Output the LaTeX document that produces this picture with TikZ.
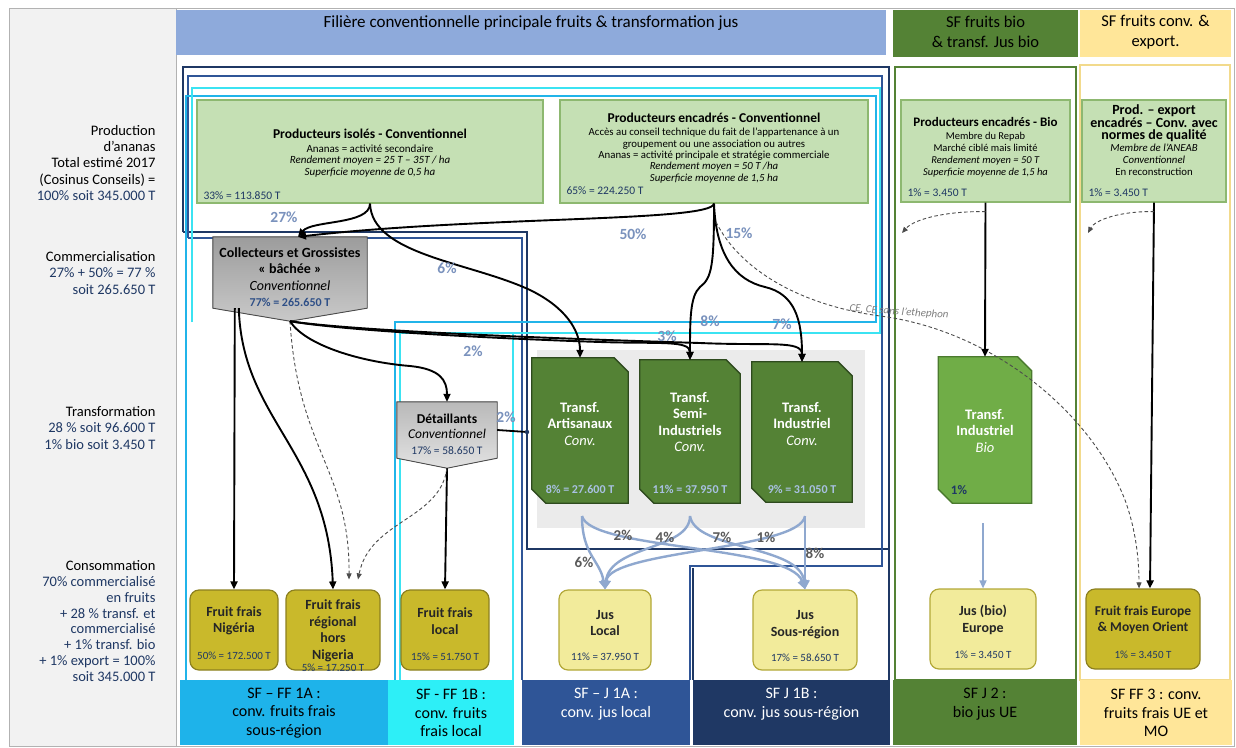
\documentclass[tikz,border=0pt]{standalone}
\usepackage{fontspec}
\setmainfont{Carlito}
\usetikzlibrary{arrows.meta,calc}

\definecolor{leftPanel}{HTML}{F2F2F2}
\definecolor{hdrBlue}{HTML}{8EAADB}
\definecolor{hdrGreen}{HTML}{548235}
\definecolor{hdrYellow}{HTML}{FFE699}
\definecolor{navyD}{HTML}{1F3864}
\definecolor{navyM}{HTML}{2F5597}
\definecolor{skyF}{HTML}{21B4E9}
\definecolor{aquaF}{HTML}{3BE3F2}
\definecolor{laneSky}{HTML}{1EB3EA}
\definecolor{laneAqua}{HTML}{2DEFF7}
\definecolor{yelF}{HTML}{F2DA8C}
\definecolor{prodFill}{HTML}{C5E0B4}
\definecolor{prodEdge}{HTML}{8DB870}
\definecolor{numBlue}{HTML}{1F3864}
\definecolor{pctBlue}{HTML}{7A92BD}
\definecolor{pctGray}{HTML}{5A5A5A}
\definecolor{trDark}{HTML}{548235}
\definecolor{trEdge}{HTML}{2E4A1E}
\definecolor{trBio}{HTML}{70AD47}
\definecolor{trBioEdge}{HTML}{4B7A2E}
\definecolor{trPctC}{HTML}{A9C1E3}
\definecolor{olive}{HTML}{C9B92B}
\definecolor{oliveEdge}{HTML}{8C8020}
\definecolor{jusYel}{HTML}{F2EB9B}
\definecolor{jusEdge}{HTML}{B3A838}
\definecolor{jArrow}{HTML}{8FA8CF}
\definecolor{panelGray}{HTML}{EBEBEB}
\definecolor{collTop}{HTML}{9C9C9C}
\definecolor{collBot}{HTML}{C9C9C9}
\definecolor{detTop}{HTML}{B9B9B9}
\definecolor{detBot}{HTML}{E2E2E2}
\definecolor{collPctC}{HTML}{2E4F87}

\newcommand{\fsz}[2]{\fontsize{#1}{#2}\selectfont}
% snipped-corner box drawn around an invisible anchor node
\newcommand{\chamferbox}[3]{\filldraw[fill=#2, draw=#3, line width=1.3pt]
  (#1.north west) -- ($(#1.north east)+(-14,0)$) -- ($(#1.north east)+(0,14)$)
  -- (#1.south east) -- ($(#1.south west)+(14,0)$) -- ($(#1.south west)+(0,-14)$) -- cycle;}

\tikzset{
  frJ1B/.style={draw=navyD, line width=2.6pt},
  frJ1A/.style={draw=navyM, line width=2.3pt},
  frFF1A/.style={draw=skyF, line width=2.3pt},
  frFF1B/.style={draw=aquaF, line width=2.3pt},
  prodbox/.style={rectangle, draw=prodEdge, line width=1.2pt, fill=prodFill, inner sep=0pt},
  anchorbox/.style={rectangle, inner sep=0pt},
  consbox/.style={rectangle, rounded corners=9pt, line width=1.2pt, inner sep=0pt, minimum height=80pt},
  ffbox/.style={consbox, fill=olive, draw=oliveEdge},
  jbox/.style={consbox, fill=jusYel, draw=jusEdge},
  consTxt/.style={align=center, font=\fsz{14}{16.5}\bfseries, text=black!85},
  consPct/.style={font=\fsz{11}{11}, text=numBlue},
  prodPct/.style={font=\fsz{11.5}{11.5}, text=numBlue, anchor=west},
  pct/.style={font=\fsz{15.5}{16}\bfseries, text=pctBlue},
  pctB/.style={font=\fsz{15}{16}\bfseries, text=pctGray},
  flow/.style={draw=black, line width=1.9pt, -{Triangle[length=8pt,width=7pt]}},
  dflow/.style={draw=black!70, line width=0.9pt, dash pattern=on 3.5pt off 2.5pt, -{Triangle[length=6pt,width=5pt]}},
  jflow/.style={draw=jArrow, line width=2.4pt, -{Triangle[length=9pt,width=9pt]}},
  trTxt/.style={align=center, text=white, font=\fsz{14.5}{16.5}\bfseries},
  trPct/.style={font=\fsz{12}{12}\bfseries, text=trPctC},
  lanebox/.style={rectangle, inner sep=0pt, anchor=north west, minimum height=65pt},
  laneTxt/.style={align=center, font=\fsz{16}{18.5}},
  leftTxt/.style={align=right, anchor=east, font=\fsz{14.5}{16.2}},
}

\begin{document}
\begin{tikzpicture}[x=1pt,y=-1pt]
\useasboundingbox (0,0) rectangle (1236,747);
\fill[white] (0,0) rectangle (1236,747);

% ---------- left column ----------
\fill[leftPanel] (9,8) rectangle (176,746);
\draw[gray!60, line width=0.8pt] (9,8) rectangle (1234,746);
\draw[gray!60, line width=0.8pt] (176,8) -- (176,746);

\node[leftTxt] (lProd) at (159,163) {Production\\d’ananas\\Total estimé 2017\\(Cosinus Conseils) =\\\textcolor{numBlue}{100\% soit 345.000 T}};
\node[leftTxt] (lComm) at (159,273) {Commercialisation\\\textcolor{numBlue}{27\% + 50\% = 77 \%}\\\textcolor{numBlue}{soit 265.650 T}};
\node[leftTxt] (lTrans) at (159,428) {Transformation\\\textcolor{numBlue}{28 \% soit 96.600 T}\\\textcolor{numBlue}{1\% bio soit 3.450 T}};
\node[leftTxt, font=\fsz{14.5}{15.8}] (lCons) at (159,621) {Consommation\\\textcolor{numBlue}{70\% commercialisé}\\\textcolor{numBlue}{en fruits}\\\textcolor{numBlue}{+ 28 \% transf. et}\\\textcolor{numBlue}{commercialisé}\\\textcolor{numBlue}{+ 1\% transf. bio}\\\textcolor{numBlue}{+ 1\% export = 100\%}\\\textcolor{numBlue}{soit 345.000 T}};

% ---------- headers ----------
\fill[hdrBlue] (176,10) rectangle (886,55);
\node[font=\fsz{17}{19}] (hMain) at (531,23) {Filière conventionnelle principale fruits \& transformation jus};
\fill[hdrGreen] (893,10) rectangle (1078,57);
\node[align=center, font=\fsz{16.5}{20}] (hBio) at (985.5,32) {SF fruits bio\\\& transf. Jus bio};
\fill[hdrYellow] (1080,10) rectangle (1231,57);
\node[align=center, font=\fsz{16.5}{20}] (hExp) at (1155.5,32) {SF fruits conv. \&\\export.};

% ---------- sub-chain frames ----------
\draw[frJ1B] (183,232) -- (183,67) -- (889,67) -- (889,680);
\draw[frJ1B] (183,232) -- (527,232) -- (527,549) -- (889,549);
\draw[frJ1B] (693,568) -- (693,680);
\draw[frJ1A] (188,238) -- (188,76) -- (882,76) -- (882,566) -- (690,566) -- (690,680);
\draw[frJ1A] (188,238) -- (522,238) -- (522,680);
\draw[frFF1A] (186,680) -- (186,96) -- (876,96) -- (876,322) -- (395,322) -- (395,680);
\draw[frFF1B] (192,322) -- (192,88) -- (880,88) -- (880,333) -- (513,333) -- (513,680);
\draw[frFF1B] (513,333) -- (400,333) -- (400,680);
\draw[draw=hdrGreen, line width=2.4pt] (895,67) rectangle (1076,680);
\draw[draw=yelF, line width=2.2pt] (1080,65) rectangle (1230,680);

% ---------- producers ----------
\node[prodbox, minimum width=346pt, minimum height=103pt] (isoBox) at (370,151.5) {};
\node[align=center, font=\fsz{11}{11.4}] (isoTxt) at (370,153) {{\fsz{13.5}{14}\bfseries Producteurs isolés - Conventionnel}\\[2.5pt]Ananas = activité secondaire\\\textit{Rendement moyen = 25 T – 35T / ha}\\\textit{Superficie moyenne de 0,5 ha}};
\node[prodPct] (isoPct) at (200,196) {33\% = 113.850 T};

\node[prodbox, minimum width=308pt, minimum height=103pt] (encBox) at (714,151.5) {};
\node[align=center, font=\fsz{10.8}{11.3}] (encTxt) at (714,148) {{\fsz{13.5}{14}\bfseries Producteurs encadrés - Conventionnel}\\[2pt]Accès au conseil technique du fait de l’appartenance à un\\groupement ou une association ou autres\\Ananas = activité principale et stratégie commerciale\\\textit{Rendement moyen = 50 T /ha}\\\textit{Superficie  moyenne de 1,5 ha}};
\node[prodPct] (encPct) at (563,191) {65\% = 224.250 T};

\node[prodbox, minimum width=169pt, minimum height=102pt] (bioBox) at (985.5,151) {};
\node[align=center, font=\fsz{10.5}{12}] (bioTxt) at (985.5,147) {{\fsz{13}{14}\bfseries Producteurs encadrés - Bio}\\[1pt]Membre du Repab\\Marché ciblé mais limité\\\textit{Rendement moyen = 50 T}\\\textit{Superficie  moyenne de 1,5 ha}};
\node[prodPct] (bioPct) at (904,193) {1\% = 3.450 T};

\node[prodbox, minimum width=144pt, minimum height=102pt] (expBox) at (1154,151) {};
\node[align=center, font=\fsz{10.8}{12}] (expTxt) at (1154,140) {{\fsz{14}{12}\bfseries Prod. – export}\\{\fsz{14}{12}\bfseries encadrés – Conv. avec}\\{\fsz{14}{12}\bfseries normes de qualité}\\\textit{Membre de l’ANEAB}\\\textit{Conventionnel}\\En reconstruction};
\node[prodPct] (expPct) at (1085,193) {1\% = 3.450 T};

% ---------- transformation panel ----------
\fill[panelGray] (537,350) rectangle (865,528);

% ---------- traders ----------
\node[anchorbox, minimum width=154pt, minimum height=71pt] (coll) at (290,272.5) {};
\coordinate (collTip) at ($(coll.south)+(0,13)$);
\filldraw[draw=gray!60!black, line width=0.9pt, top color=collTop, bottom color=collBot]
  (coll.north west) -- (coll.north east) -- (coll.south east) -- (collTip) -- (coll.south west) -- cycle;
\node[align=center, font=\fsz{14}{16.3}] (collTxt) at (290,277) {{\bfseries Collecteurs et Grossistes}\\{\bfseries « bâchée »}\\\textit{Conventionnel}\\{\fsz{12}{16.3}\bfseries\color{collPctC}77\% = 265.650 T}};

\node[anchorbox, minimum width=100pt, minimum height=56pt] (det) at (447,430) {};
\coordinate (detTip) at ($(det.south)+(0,10)$);
\filldraw[draw=gray!60!black, line width=0.9pt, top color=detTop, bottom color=detBot]
  (det.north west) -- (det.north east) -- (det.south east) -- (detTip) -- (det.south west) -- cycle;
\node[align=center, font=\fsz{13.5}{15.5}] (detTxt) at (447,434) {{\bfseries Détaillants}\\\textit{Conventionnel}\\{\fsz{11.5}{15.5}\color{numBlue}17\% = 58.650 T}};

% ---------- processors ----------
\node[anchorbox, minimum width=96pt, minimum height=145pt] (tArt) at (580,430.5) {};
\chamferbox{tArt}{trDark}{trEdge}
\node[trTxt] (tArtTxt) at (580,424) {Transf.\\Artisanaux\\{\mdseries\itshape Conv.}};
\node[trPct] (tArtPct) at (580,489) {8\% = 27.600 T};

\node[anchorbox, minimum width=100pt, minimum height=143pt] (tSemi) at (690,431.5) {};
\chamferbox{tSemi}{trDark}{trEdge}
\node[trTxt] (tSemiTxt) at (690,422) {Transf.\\Semi-\\Industriels\\{\mdseries\itshape Conv.}};
\node[trPct] (tSemiPct) at (690,489) {11\% = 37.950 T};

\node[anchorbox, minimum width=100pt, minimum height=140pt] (tInd) at (802,432) {};
\chamferbox{tInd}{trDark}{trEdge}
\node[trTxt] (tIndTxt) at (802,424) {Transf.\\Industriel\\{\mdseries\itshape Conv.}};
\node[trPct] (tIndPct) at (802,489) {9\% = 31.050 T};

\node[anchorbox, minimum width=93pt, minimum height=146pt] (tBio) at (985,430) {};
\chamferbox{tBio}{trBio}{trBioEdge}
\node[trTxt] (tBioTxt) at (985,431) {Transf.\\Industriel\\{\mdseries\itshape Bio}};
\node[font=\fsz{13}{13}\bfseries, text=numBlue] (tBioPct) at (959,490) {1\%};

% ---------- consumption ----------
\node[ffbox, minimum width=88pt] (nig) at (234,630) {};
\node[consTxt] (nigTxt) at (234,621) {Fruit frais\\Nigéria};
\node[consPct] (nigPct) at (234,656) {50\% = 172.500 T};

\node[ffbox, minimum width=94pt] (reg) at (333,630) {};
\node[consTxt] (regTxt) at (333,631) {Fruit frais\\régional\\hors\\Nigeria};
\node[consPct] (regPct) at (333,668) {5\% = 17.250 T};

\node[ffbox, minimum width=88pt] (loc) at (445,630) {};
\node[consTxt] (locTxt) at (445,621) {Fruit frais\\local};
\node[consPct] (locPct) at (445,657) {15\% = 51.750 T};

\node[jbox, minimum width=92pt] (jloc) at (605,630) {};
\node[consTxt] (jlocTxt) at (605,623) {Jus\\Local};
\node[consPct] (jlocPct) at (605,657) {11\% = 37.950 T};

\node[jbox, minimum width=104pt] (jsr) at (805,630) {};
\node[consTxt] (jsrTxt) at (805,624.5) {Jus\\Sous-région};
\node[consPct] (jsrPct) at (805,658) {17\% = 58.650 T};

\node[jbox, minimum width=106pt] (jbio) at (983,629) {};
\node[consTxt] (jbioTxt) at (983,620) {Jus (bio)\\Europe};
\node[consPct] (jbioPct) at (983,655) {1\% = 3.450 T};

\node[ffbox, minimum width=114pt] (ffeu) at (1143,629) {};
\node[consTxt, font=\fsz{13.5}{16.5}\bfseries] (ffeuTxt) at (1143,620) {Fruit frais Europe\\\& Moyen Orient};
\node[consPct] (ffeuPct) at (1143,655) {1\% = 3.450 T};

% ---------- lane labels ----------
\node[lanebox, fill=laneSky, minimum width=208pt] (bFF1A) at (180,680) {};
\node[laneTxt] (bFF1AT) at (284,713) {SF – FF 1A :\\conv. fruits frais\\sous-région};
\node[lanebox, fill=laneAqua, minimum width=126pt] (bFF1B) at (388,680) {};
\node[laneTxt] (bFF1BT) at (451,713) {SF - FF 1B :\\conv. fruits\\frais local};
\node[lanebox, fill=navyM, minimum width=168pt] (bJ1A) at (522,680) {};
\node[laneTxt, text=white] (bJ1AT) at (606,704) {SF – J 1A :\\conv. jus local};
\node[lanebox, fill=navyD, minimum width=197pt] (bJ1B) at (693,680) {};
\node[laneTxt, text=white] (bJ1BT) at (791.5,704) {SF J 1B :\\conv. jus sous-région};
\node[lanebox, fill=hdrGreen, minimum width=184pt] (bJ2) at (893,680) {};
\node[laneTxt] (bJ2T) at (985,704) {SF J 2 :\\bio jus UE};
\node[lanebox, fill=hdrYellow, minimum width=152pt] (bFF3) at (1080,680) {};
\node[laneTxt] (bFF3T) at (1156,713) {SF FF 3 : conv.\\fruits frais UE et\\MO};

% ---------- flows ----------
\coordinate (collIn) at ($(coll.north)+(8,0)$);
\draw[flow] (isoBox.south) .. controls (370,225) and (312,220) .. (collIn);
\draw[flow] (encBox.south) .. controls (712,222) and (480,216) .. (collIn);
\draw[flow] (isoBox.south) .. controls (372,255) and (470,262) .. (530,290) .. controls (565,307) and (580,330) .. (tArt.north);
\draw[flow] (encBox.south) .. controls (714,265) and (712,278) .. (700,287) .. controls (690,296) and (690,320) .. (tSemi.north);
\draw[flow] (encBox.south) .. controls (716,255) and (735,280) .. (765,287) .. controls (795,294) and (802,320) .. (tInd.north);

\coordinate (ethStart) at (716,222);
\coordinate (ffeuIn) at ($(ffeu.north)+(-4,0)$);
\draw[dflow] (ethStart) .. controls (740,270) and (800,305) .. (880,316) .. controls (990,330) and (1090,410) .. (1125,500) .. controls (1136,530) and (1139,560) .. (ffeuIn);
\node[font=\fsz{11}{11}\itshape, text=gray, rotate=-4] (eth) at (899,312) {CE, CE sans l’ethephon};

\draw[flow] (expBox.south) -- ($(ffeu.north)+(7,0)$);
\draw[flow] (bioBox.south) -- (tBio.north);
\coordinate (bioOut) at (983,523);
\draw[draw=jArrow, line width=1.6pt, -{Triangle[length=8pt,width=7pt]}] (bioOut) -- (jbio.north);

\coordinate (bioSide) at (902,233);
\coordinate (expSide) at (1088,233);
\draw[dflow] ($(bioBox.south)+(0,9)$) .. controls (950,211) and (915,218) .. (bioSide);
\draw[dflow] ($(expBox.south)+(0,9)$) .. controls (1120,211) and (1095,220) .. (expSide);

\coordinate (collSW) at ($(coll.south west)+(22,0)$);
\draw[flow] (collSW) -- (nig.north);
\draw[flow] ($(collSW)+(4,0)$) .. controls (242,420) and (328,450) .. (reg.north);
\draw[dflow] (collTip) .. controls (298,450) and (350,470) .. ($(reg.north)+(16,-10)$);
\draw[flow] (collTip) .. controls (305,345) and (360,362) .. (410,366) .. controls (440,369) and (447,380) .. (det.north);
\draw[flow] (collTip) .. controls (340,330) and (480,338) .. (600,342) .. controls (660,344) and (690,340) .. (tSemi.north);
\draw[flow] (collTip) .. controls (360,332) and (600,340) .. (700,343) .. controls (770,346) and (802,340) .. (tInd.north);

\draw[flow] (detTip) -- (loc.north);
\draw[dflow] (detTip) .. controls (440,520) and (370,520) .. ($(reg.north)+(25,-10)$);
\coordinate (detJ) at (527,432);
\draw[line width=1.8pt] (det.east) -- (detJ);
\fill[navyD] (detJ) circle (2.2pt);

\coordinate (oArt) at (582,516);
\coordinate (oSemi) at (690,516);
\coordinate (oInd) at (805,516);
\draw[jflow] (oArt) .. controls (582,555) and (600,560) .. (jloc.north);
\draw[jflow] (oArt) .. controls (590,550) and (790,545) .. (jsr.north);
\draw[jflow] (oSemi) .. controls (690,550) and (610,545) .. (jloc.north);
\draw[jflow] (oSemi) .. controls (695,550) and (800,545) .. (jsr.north);
\draw[jflow] (oInd) .. controls (800,550) and (610,550) .. (jloc.north);
\draw[jflow] (oInd) .. controls (805,550) and (805,570) .. (jsr.north);

% ---------- flow shares ----------
\node[pct] (p27) at (284,217) {27\%};
\node[pct] (p50) at (633,234) {50\%};
\node[pct] (p15) at (739,233) {15\%};
\node[pct] (p6a) at (447,268) {6\%};
\node[pct] (p3) at (667,336) {3\%};
\node[pct] (p8a) at (710,321) {8\%};
\node[pct] (p7a) at (782,324) {7\%};
\node[pct] (p2a) at (473,351) {2\%};
\node[pct] (p2b) at (506,417) {2\%};
\node[pctB] (p2c) at (623,535) {2\%};
\node[pctB] (p4) at (665,537) {4\%};
\node[pctB] (p7b) at (722,537) {7\%};
\node[pctB] (p1) at (766,537) {1\%};
\node[pctB] (p6b) at (584,562) {6\%};
\node[pctB] (p8b) at (815,553) {8\%};
\end{tikzpicture}
\end{document}
